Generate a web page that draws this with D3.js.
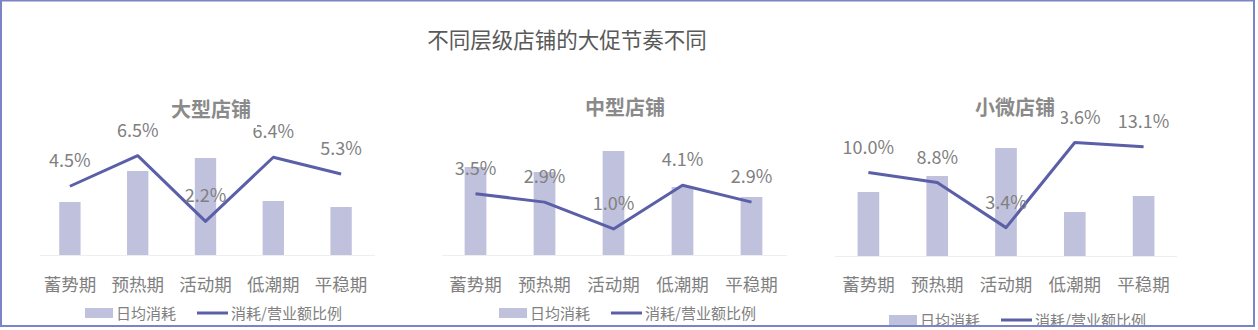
<!DOCTYPE html>
<html>
<head>
<meta charset="utf-8">
<script src="https://cdn.jsdelivr.net/npm/d3@7"></script>
<style>
  html, body { margin: 0; padding: 0; background: #fff; }
  svg text { font-family: "Noto Sans CJK SC", "Noto Sans", sans-serif; }
</style>
</head>
<body>
<div id="chart"></div>
<script>
var W = 1258, H = 330;

// data
var phases = ['蓄势期', '预热期', '活动期', '低潮期', '平稳期'];
var panelTitles = ['大型店铺', '中型店铺', '小微店铺'];
var legendNames = ['日均消耗', '消耗/营业额比例'];

// 日均消耗 (relative, no axis shown)
var largeSpend = [5.3, 8.4, 9.7, 5.4, 4.8];
var midSpend = [8.8, 8.3, 10.4, 6.8, 5.8];
var smallSpend = [6.4, 8.0, 10.8, 4.4, 6.0];

// 消耗/营业额比例 (%)
var largeRatio = [4.5, 6.5, 2.2, 6.4, 5.3];
var midRatio = [3.5, 2.9, 1.0, 4.1, 2.9];
var smallRatio = [10.0, 8.8, 3.4, 13.6, 13.1];

// secondary axis bounds per panel (hidden)
var largeRatioAxis = [0, 7.2];
var midRatioAxis = [-0.85, 6.95];
var smallRatioAxis = [0, 13.9];
var spendAxis = [0, 11];

var barColor = '#c0c2dd';
var lineColor = '#5b5fa7';
var textGrey = '#808080';

var svg = d3.select('#chart').append('svg')
  .attr('width', W)
  .attr('height', H);

svg.append('text')
  .attr('x', 567)
  .attr('y', 48)
  .attr('text-anchor', 'middle')
  .attr('fill', '#595959')
  .style('font-size', '21.5px')
  .text('不同层级店铺的大促节奏不同');

var panels = [
  { spend: largeSpend, ratio: largeRatio, ratioAxis: largeRatioAxis,
    x0: 36, x1: 375, axisX: [40, 375], base: 255, top: 145, lineTop: 145,
    titleX: 211, titleY: 117, legendY: 313, legendX: 85 },
  { spend: midSpend, ratio: midRatio, ratioAxis: midRatioAxis,
    x0: 441, x1: 786, axisX: [442, 787], base: 255, top: 145, lineTop: 145,
    titleX: 625, titleY: 115, legendY: 313, legendX: 499 },
  { spend: smallSpend, ratio: smallRatio, ratioAxis: smallRatioAxis,
    x0: 834, x1: 1178, axisX: [835, 1177], base: 256, top: 146, lineTop: 140,
    titleX: 1015, titleY: 115, legendY: 320, legendX: 889 }
];

panels.forEach(function(p, k) {
  var g = svg.append('g');

  var x = d3.scaleBand()
    .domain(phases)
    .range([p.x0, p.x1])
    .paddingInner(0.685)
    .paddingOuter(0.3425);

  var yBar = d3.scaleLinear().domain(spendAxis).range([p.base, p.top]);
  var yLine = d3.scaleLinear().domain(p.ratioAxis).range([p.base, p.lineTop]);

  g.append('line')
    .attr('x1', p.axisX[0]).attr('x2', p.axisX[1])
    .attr('y1', p.base + 0.5).attr('y2', p.base + 0.5)
    .attr('stroke', '#eeeeee');

  g.selectAll('rect.bar')
    .data(p.spend)
    .enter().append('rect')
    .attr('class', 'bar')
    .attr('x', function(d, i) { return x(phases[i]); })
    .attr('y', function(d) { return yBar(d); })
    .attr('width', x.bandwidth())
    .attr('height', function(d) { return p.base - yBar(d); })
    .attr('fill', barColor);

  var line = d3.line()
    .x(function(d, i) { return x(phases[i]) + x.bandwidth() / 2; })
    .y(function(d) { return yLine(d); });

  g.append('path')
    .datum(p.ratio)
    .attr('d', line)
    .attr('fill', 'none')
    .attr('stroke', lineColor)
    .attr('stroke-width', 3)
    .attr('stroke-linejoin', 'round');

  g.selectAll('text.lbl')
    .data(p.ratio)
    .enter().append('text')
    .attr('class', 'lbl')
    .attr('x', function(d, i) { return x(phases[i]) + x.bandwidth() / 2; })
    .attr('y', function(d) { return yLine(d) - 19; })
    .attr('text-anchor', 'middle')
    .attr('fill', textGrey)
    .style('font-size', '18px')
    .text(function(d) { return d.toFixed(1) + '%'; });

  g.selectAll('text.cat')
    .data(phases)
    .enter().append('text')
    .attr('class', 'cat')
    .attr('x', function(d) { return x(d) + x.bandwidth() / 2; })
    .attr('y', 291)
    .attr('text-anchor', 'middle')
    .attr('fill', textGrey)
    .style('font-size', '17.5px')
    .text(function(d) { return d; });

  // panel title sits in a white text box over the labels
  var t = g.append('text')
    .attr('x', p.titleX)
    .attr('y', p.titleY)
    .attr('text-anchor', 'middle')
    .attr('fill', '#8a8a8a')
    .style('font-size', '20px')
    .style('font-weight', 'bold')
    .text(panelTitles[k]);
  var bb = t.node().getBBox();
  g.insert('rect', function() { return t.node(); })
    .attr('x', bb.x - 6).attr('y', bb.y)
    .attr('width', bb.width + 12).attr('height', bb.height + 5)
    .attr('fill', '#fff');

  // legend
  var lg = g.append('g').attr('transform', 'translate(' + p.legendX + ',' + p.legendY + ')');
  lg.append('rect')
    .attr('x', 0).attr('y', -5)
    .attr('width', 28).attr('height', 10)
    .attr('fill', barColor);
  lg.append('text')
    .attr('x', 31).attr('y', 5.5)
    .attr('fill', textGrey)
    .style('font-size', '15px')
    .text(legendNames[0]);
  lg.append('line')
    .attr('x1', 112).attr('x2', 143)
    .attr('y1', 0).attr('y2', 0)
    .attr('stroke', lineColor)
    .attr('stroke-width', 3);
  lg.append('text')
    .attr('x', 146).attr('y', 5.5)
    .attr('fill', textGrey)
    .style('font-size', '15px')
    .text(legendNames[1]);
});

// frame
svg.append('rect')
  .attr('x', 0).attr('y', 327)
  .attr('width', W).attr('height', 3)
  .attr('fill', '#fff');
svg.append('rect')
  .attr('x', 1).attr('y', 0.5)
  .attr('width', 1253).attr('height', 325.5)
  .attr('fill', 'none')
  .attr('stroke', '#7d84c6')
  .attr('stroke-width', 2);
</script>
</body>
</html>
